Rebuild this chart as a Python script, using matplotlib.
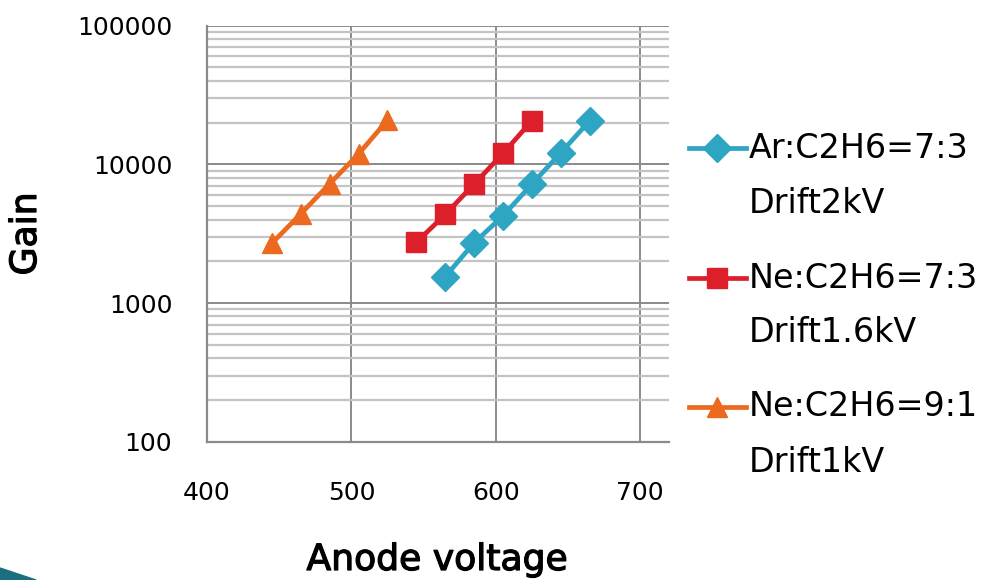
import numpy as np
import matplotlib
matplotlib.use("Agg")
import matplotlib.pyplot as plt
import matplotlib.patheffects as pe
from matplotlib.lines import Line2D
from matplotlib.patches import Polygon
from matplotlib.ticker import FixedLocator, NullFormatter

# data
ar73_v = [565, 585, 605, 625, 645, 665]
ar73_gain = [1550, 2720, 4250, 7200, 12100, 20600]
ne73_v = [545, 565, 585, 605, 625]
ne73_gain = [2740, 4350, 7200, 12000, 20600]
ne91_v = [445, 465, 485, 505, 525]
ne91_gain = [2700, 4400, 7250, 11900, 20800]

series_names = ["Ar:C2H6=7:3", "Ne:C2H6=7:3", "Ne:C2H6=9:1"]
series_drift = ["Drift2kV", "Drift1.6kV", "Drift1kV"]
x_ticks = [400, 500, 600, 700]
y_ticks = [100, 1000, 10000, 100000]

blue = "#2ea5c3"
red = "#dc1f2b"
orange = "#eb6a1f"

W, H = 998, 580
fig = plt.figure(figsize=(W / 100, H / 100), dpi=100)
ax = fig.add_axes([207 / W, 1 - 441.7 / H, 462 / W, 416 / H])

ax.set_yscale("log")
ax.set_ylim(100, 100000)
ax.set_xlim(400, 720)

# grid
ax.yaxis.set_major_locator(FixedLocator(y_ticks))
minors = [m * d for d in [100, 1000, 10000] for m in range(2, 10)]
ax.yaxis.set_minor_locator(FixedLocator(minors))
ax.yaxis.set_minor_formatter(NullFormatter())
ax.set_xticks(x_ticks)
ax.grid(True, which="major", axis="y", color="#8a8a8a", lw=1.4)
ax.grid(True, which="minor", axis="y", color="#c4c4c4", lw=1.6)
ax.grid(True, which="major", axis="x", color="#8a8a8a", lw=1.4)
ax.set_axisbelow(True)

for s in ["top", "right"]:
    ax.spines[s].set_visible(False)
for s in ["left", "bottom"]:
    ax.spines[s].set_color("#8a8a8a")
    ax.spines[s].set_linewidth(1.6)

ax.set_yticklabels([str(t) for t in y_ticks])
ax.tick_params(axis="y", which="both", length=0, pad=25, labelsize=18)
ax.tick_params(axis="x", which="both", length=0, pad=28, labelsize=18)

ax.plot(ar73_v, ar73_gain, color=blue, lw=3.4, marker="D", ms=14.5, clip_on=False)
ax.plot(ne73_v, ne73_gain, color=red, lw=3.4, marker="s", ms=14.5, clip_on=False)
ax.plot(ne91_v, ne91_gain, color=orange, lw=3.4, marker="^", ms=15, clip_on=False)

# axis titles are a touch heavier than regular in the original
heavy = [pe.withStroke(linewidth=0.9, foreground="black")]
fig.text(437 / W, 1 - 560 / H, "Anode voltage", fontsize=26, ha="center", va="center",
         path_effects=heavy)
fig.text(26 / W, 1 - 234 / H, "Gain", fontsize=26, rotation=90, ha="center", va="center",
         path_effects=heavy)

# legend drawn by hand so the key sits on the first text line
legend_y = [148, 278, 407]
markers = [("D", 14.5, blue), ("s", 14.5, red), ("^", 15, orange)]
for i in range(3):
    yy = 1 - legend_y[i] / H
    mk, ms, col = markers[i]
    fig.add_artist(Line2D([689 / W, 717 / W, 746 / W], [yy, yy, yy], color=col, lw=3.4,
                          marker=mk, ms=ms, markevery=[1], transform=fig.transFigure))
    fig.text(749 / W, yy, series_names[i], fontsize=24, va="center", ha="left")
    fig.text(749 / W, yy - 55 / H, series_drift[i], fontsize=24, va="center", ha="left")

# slide decoration in the corner
fig.add_artist(Polygon([[0, 0], [0, 12 / H], [36 / W, 0]], closed=True,
                       color="#1d6f80", transform=fig.transFigure))

fig.savefig("out.png", dpi=100)
